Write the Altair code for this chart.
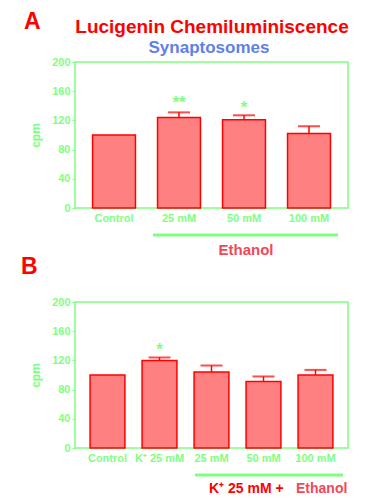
import altair as alt
import pandas as pd

# ---- data ----
cats_a = ["Control", "25 mM", "50 mM", "100 mM"]
vals_a = [100, 124, 121, 102]
errs_a = [100, 131, 127, 112]
stars_a = ["", "**", "*", ""]
star_pos_a = [0, 149, 143, 0]

cats_b = ["Control", "K⁺ 25 mM", "25 mM", "50 mM", "100 mM"]
vals_b = [100, 120, 104, 91, 100]
errs_b = [100, 124, 113, 98, 107]
stars_b = ["", "*", "", "", ""]
star_pos_b = [0, 140, 0, 0, 0]

y_ticks = [0, 40, 80, 120, 160, 200]

GREEN = "#7fff7f"
RED = "#ff0000"
FILL = "#ff8080"
SOFTRED = "#f04858"
BLUE = "#6080e8"
FONT = "Liberation Sans"

W, H = 273, 146


def text_layer(txt, x, y, size, color, align="left", angle=0):
    return alt.Chart(pd.DataFrame({"t": [txt]})).mark_text(
        font=FONT, fontWeight="bold", fontSize=size, color=color,
        align=align, baseline="alphabetic", angle=angle
    ).encode(x=alt.value(x), y=alt.value(y), text="t:N")


def hline(x1, x2, y, color, width):
    return alt.Chart(pd.DataFrame({"t": [0]})).mark_rule(
        color=color, strokeWidth=width
    ).encode(x=alt.value(x1), x2=alt.value(x2), y=alt.value(y))


def panel(cats, vals, errs, stars, star_pos, p_inner, p_outer):
    df = pd.DataFrame({"cat": cats, "val": vals, "err": errs,
                       "star": stars, "spos": star_pos})
    xaxis = alt.Axis(labelAngle=0, ticks=False, domain=False,
                     labelColor=GREEN, labelFont=FONT,
                     labelFontSize=11, labelFontWeight="bold",
                     labelPadding=4, labelOverlap=False)
    xscale = alt.Scale(paddingInner=p_inner, paddingOuter=p_outer)
    yaxis = alt.Axis(values=y_ticks, grid=False, domain=False,
                     tickColor=GREEN, tickSize=3, tickWidth=1,
                     labelColor=GREEN, labelFont=FONT,
                     labelFontSize=11, labelFontWeight="bold",
                     labelPadding=2, labelOverlap=False, labelBound=False,
                     titleColor=GREEN, titleFont=FONT,
                     titleFontSize=12, titleFontWeight="bold",
                     titlePadding=9)
    yscale = alt.Scale(domain=[0, 200], nice=False)

    def X():
        return alt.X("cat:N", sort=cats, title=None, scale=xscale, axis=xaxis)

    def Y(field):
        return alt.Y(field, title="cpm", scale=yscale, axis=yaxis)

    base = alt.Chart(df)
    bars = base.mark_bar(fill=FILL, stroke=RED, strokeWidth=1.5).encode(
        x=X(), y=Y("val:Q"))
    eb = base.transform_filter("datum.err > datum.val")
    rule = eb.mark_rule(color=RED, strokeWidth=1.5).encode(
        x=X(), y=Y("val:Q"), y2="err:Q")
    cap = eb.mark_tick(color=RED, size=22, thickness=2).encode(
        x=X(), y=Y("err:Q"))
    st = base.transform_filter("datum.star != ''").mark_text(
        font=FONT, fontWeight="bold", fontSize=17, color=GREEN,
        baseline="middle", dy=4
    ).encode(x=X(), y=Y("spos:Q"), text="star:N")
    return [bars, rule, cap, st]


anchor = alt.Chart(pd.DataFrame({"t": [0]})).mark_rule(
    strokeOpacity=0, strokeWidth=0.01
).encode(x=alt.value(-66), x2=alt.value(-66), y=alt.value(-53), y2=alt.value(-52))

layers_a = panel(cats_a, vals_a, errs_a, stars_a, star_pos_a, 0.34, 0.27)
chart_a = alt.layer(
    *layers_a,
    anchor,
    text_layer("A", -51, -33, 23, RED),
    text_layer("Lucigenin Chemiluminiscence", 137, -29, 19, RED, align="center"),
    text_layer("Synaptosomes", 134, -9.5, 17, BLUE, align="center"),
    hline(78, 263, 173, GREEN, 3),
    text_layer("Ethanol", 171, 193, 15, SOFTRED, align="center"),
).properties(width=W, height=H)

layers_b = panel(cats_b, vals_b, errs_b, stars_b, star_pos_b, 0.33, 0.29)
chart_b = alt.layer(
    *layers_b,
    text_layer("B", -54, -28, 23, RED),
    hline(120, 268, 173, GREEN, 3),
    text_layer("K⁺ 25 mM +", 134, 191, 14, RED),
    text_layer("Ethanol", 221, 191, 14, SOFTRED),
).properties(width=W, height=H)

chart = alt.vconcat(chart_a, chart_b, spacing=94, bounds="flush").configure(
    padding=0
).configure_view(stroke=GREEN, strokeWidth=1.5)

chart.save("out.html", embed_options={"renderer": "svg", "actions": False})
